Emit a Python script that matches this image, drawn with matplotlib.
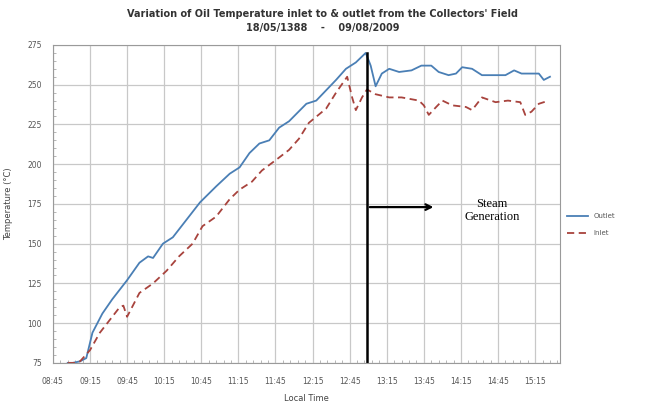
import matplotlib
matplotlib.use("Agg")
import matplotlib.pyplot as plt
from matplotlib.ticker import MultipleLocator

# minutes after 08:45
outlet_t = [12, 16, 22, 27, 32, 40, 48, 60, 70, 77, 81, 89, 97, 108, 119, 132, 143, 151,
            159, 167, 175, 183, 191, 205, 213, 229, 237, 245, 253, 257, 261, 266, 272, 280,
            290, 298, 306, 312, 320, 326, 331, 339, 347, 358, 366, 373, 379, 393, 397, 402]
outlet_T = [75, 75, 76, 78, 94, 106, 115, 127, 138, 142, 141, 150, 154, 165, 176, 186, 194, 198,
            207, 213, 215, 223, 227, 238, 240, 253, 260, 264, 270, 262, 249, 257, 260, 258,
            259, 262, 262, 258, 256, 257, 261, 260, 256, 256, 256, 259, 257, 257, 253, 255]

inlet_t = [12, 18, 22, 30, 38, 46, 54, 57, 60, 70, 81, 92, 102, 113, 121, 132, 143, 151,
           161, 169, 181, 191, 199, 207, 221, 229, 238, 242, 245, 250, 254, 261, 272, 282,
           296, 300, 304, 310, 315, 323, 334, 339, 347, 358, 368, 378, 382, 387, 393, 401]
inlet_T = [75, 75, 76, 83, 94, 102, 110, 111, 104, 119, 125, 133, 142, 150, 161, 167, 178, 184,
           189, 196, 203, 209, 216, 226, 235, 245, 255, 242, 234, 242, 247, 244, 242, 242,
           240, 237, 231, 236, 240, 237, 236, 234, 242, 239, 240, 239, 231, 233, 238, 240]

tick_labels = ["08:45", "09:15", "09:45", "10:15", "10:45", "11:15", "11:45", "12:15",
               "12:45", "13:15", "13:45", "14:15", "14:45", "15:15"]

steam_start = 254
steam_end = 310

fig = plt.figure(figsize=(6.45, 4.05), dpi=100)
ax = fig.add_axes([0.082, 0.104, 0.786, 0.785])

ax.plot(outlet_t, outlet_T, color="#4a7fb5", lw=1.3, label="Outlet")
ax.plot(inlet_t, inlet_T, color="#a8433d", lw=1.3, ls=(0, (4, 2.5)), label="Inlet")

ax.plot([steam_start, steam_start], [75, 270], color="black", lw=1.8)
ax.annotate("", xy=(steam_end, 173), xytext=(steam_start, 173),
            arrowprops=dict(arrowstyle="->", color="black", lw=1.6))
ax.text(355, 171, "Steam\nGeneration", ha="center", va="center", fontsize=9,
        family="Liberation Serif", linespacing=1.1)

ax.set_xlim(0, 410)
ax.set_ylim(75, 275)
ax.set_xticks([30 * i for i in range(len(tick_labels))])
ax.set_xticklabels(tick_labels)
ax.set_yticks(range(75, 276, 25))
ax.yaxis.set_minor_locator(MultipleLocator(5))
ax.xaxis.set_minor_locator(MultipleLocator(6))
ax.tick_params(axis="both", which="major", labelsize=5.5, length=0, colors="#555555")
ax.tick_params(axis="x", which="major", pad=10)
ax.tick_params(axis="y", which="major", pad=8)
ax.tick_params(axis="both", which="minor", length=2, direction="in", color="#aaaaaa")
ax.grid(True, which="major", color="#c8c8c8", lw=0.9)
for s in ax.spines.values():
    s.set_color("#9a9a9a")

ax.set_xlabel("Local Time", fontsize=6, color="#444444", labelpad=6)
ax.set_ylabel("Temperature (\u00b0C)", fontsize=6, color="#444444", labelpad=10)

fig.text(0.5, 0.965, "Variation of Oil Temperature inlet to & outlet from the Collectors' Field",
         ha="center", va="center", fontsize=7, fontweight="bold", color="#333333")
fig.text(0.5, 0.93, "18/05/1388    -    09/08/2009", ha="center", va="center",
         fontsize=7, fontweight="bold", color="#333333")

fig.legend(loc="center left", bbox_to_anchor=(0.87, 0.445), frameon=False, fontsize=5,
           handlelength=3, labelspacing=1.6, labelcolor="#555555")

fig.savefig("out.png", dpi=100)
